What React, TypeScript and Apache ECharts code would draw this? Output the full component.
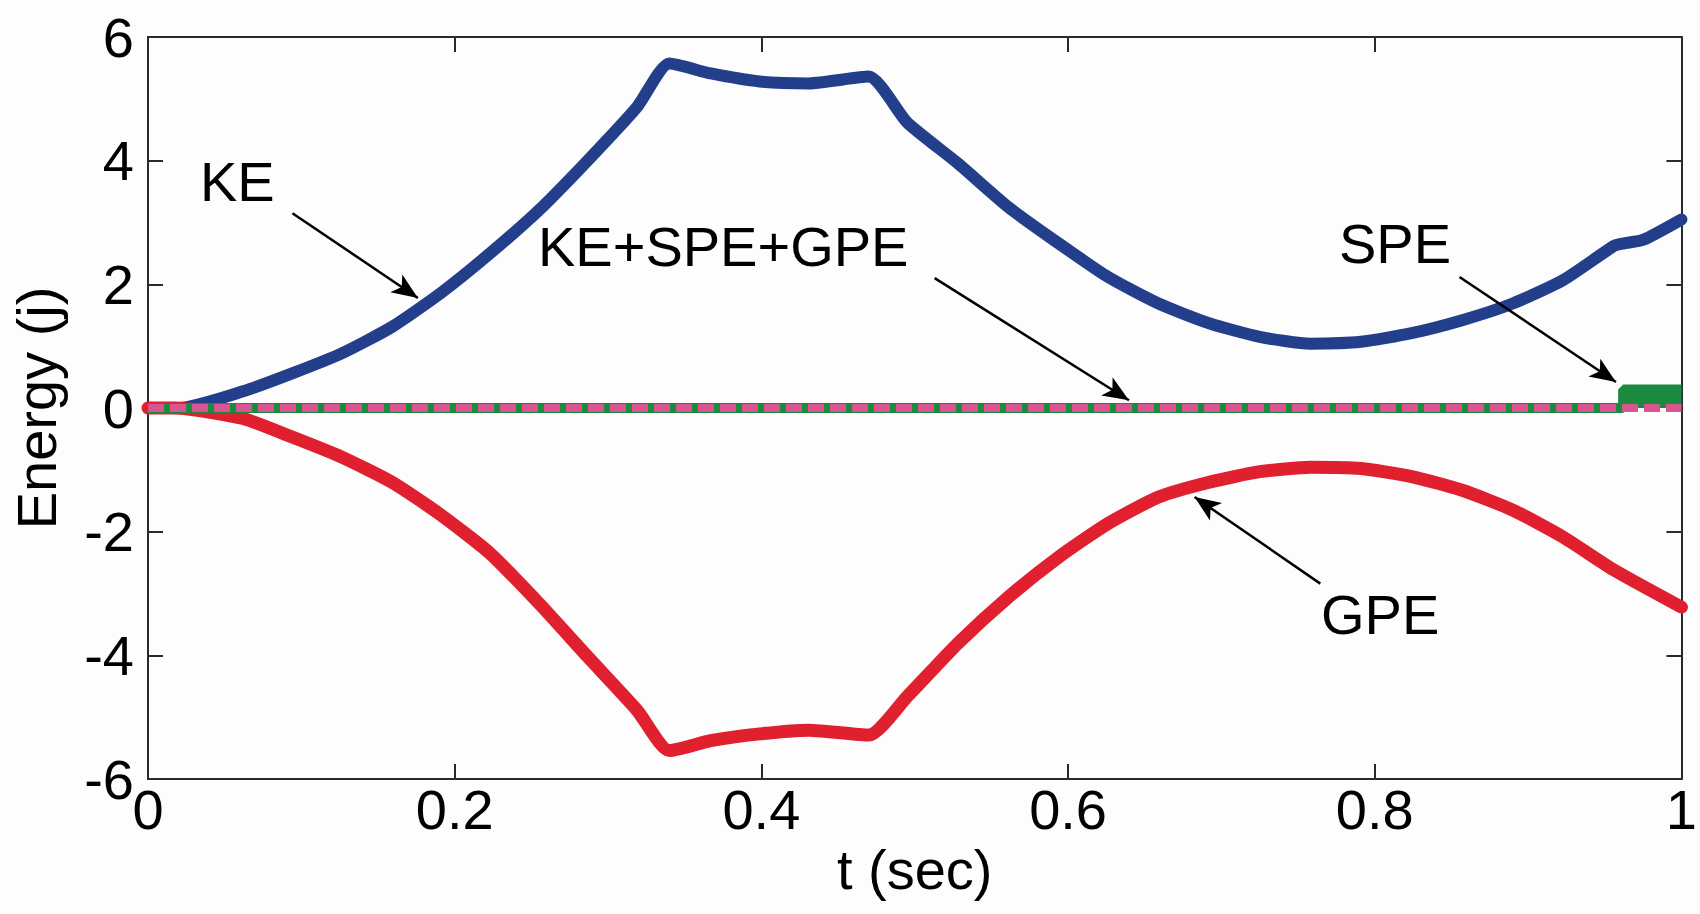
import React, { useEffect, useRef } from "react";
import * as echarts from "echarts";

// KE (blue)
const keT = [0, 0.02, 0.062, 0.094, 0.126, 0.159, 0.191, 0.223, 0.255, 0.287, 0.319, 0.34, 0.367, 0.399, 0.431, 0.47, 0.495, 0.528, 0.561, 0.594, 0.626, 0.659, 0.692, 0.725, 0.758, 0.791, 0.824, 0.857, 0.89, 0.923, 0.956, 0.962, 0.975, 1.0];
const keV = [0, 0, 0.27, 0.56, 0.88, 1.31, 1.86, 2.5, 3.2, 4.01, 4.87, 5.57, 5.41, 5.28, 5.25, 5.36, 4.62, 3.96, 3.25, 2.66, 2.12, 1.69, 1.37, 1.15, 1.04, 1.07, 1.21, 1.42, 1.69, 2.07, 2.62, 2.66, 2.72, 3.05];

// GPE (red)
const gpeT = [0, 0.017, 0.062, 0.094, 0.126, 0.159, 0.191, 0.223, 0.255, 0.287, 0.319, 0.34, 0.367, 0.399, 0.431, 0.47, 0.495, 0.528, 0.561, 0.594, 0.626, 0.659, 0.692, 0.725, 0.758, 0.791, 0.824, 0.857, 0.89, 0.923, 0.956, 1.0];
const gpeV = [0, 0, -0.17, -0.47, -0.79, -1.2, -1.73, -2.35, -3.16, -4.03, -4.89, -5.54, -5.38, -5.27, -5.21, -5.29, -4.67, -3.81, -3.06, -2.41, -1.87, -1.44, -1.2, -1.03, -0.96, -0.98, -1.11, -1.33, -1.65, -2.09, -2.62, -3.22];

// SPE (green)
const speT = [0, 0.962, 0.962, 1.0];
const speV = [0, 0, 0.3, 0.3];

// KE+SPE+GPE (pink dashed)
const totT = [0, 1];
const totV = [0, 0];

// Axis ticks
const xTicks = { min: 0, max: 1, step: 0.2 };
const yTicks = { min: -6, max: 6, step: 2 };

// Annotation arrows: [fromT, fromV, toT, toV]
const arrows = [
  [0.0942, 3.15, 0.176, 1.78],
  [0.513, 2.1, 0.6397, 0.126],
  [0.8553, 2.12, 0.9573, 0.42],
  [0.7645, -2.84, 0.6825, -1.44],
];

const pairs = (t: number[], v: number[]) => t.map((x, i) => [x, v[i]]);

const FONT = "'Liberation Sans', Arial, Helvetica, sans-serif";
const FS = 56;

export default function App() {
  const ref = useRef<HTMLDivElement>(null);
  useEffect(() => {
    if (!ref.current) return;
    const chart = echarts.init(ref.current, undefined, { renderer: "svg" });
    const axisLine = { show: true, onZero: false, lineStyle: { color: "#2a2a2a", width: 2 } };
    const tick = { show: true, inside: true, length: 15, lineStyle: { color: "#2a2a2a", width: 2 } };
    const labelFmt = (v: number) => String(Math.round(v * 10) / 10);
    chart.setOption({
      animation: false,
      backgroundColor: "#fdfdfd",
      grid: { left: 133, right: 17, top: 37, bottom: 135, containLabel: false },
      xAxis: [
        {
          type: "value",
          min: xTicks.min,
          max: xTicks.max,
          interval: xTicks.step,
          name: "t (sec)",
          nameLocation: "middle",
          nameGap: 54,
          nameTextStyle: { fontSize: FS, fontFamily: FONT, color: "#000" },
          axisLine,
          axisTick: tick,
          splitLine: { show: false },
          axisLabel: { fontSize: FS, fontFamily: FONT, color: "#000", margin: 2, formatter: labelFmt },
        },
        {
          type: "value",
          position: "top",
          min: xTicks.min,
          max: xTicks.max,
          interval: xTicks.step,
          axisLine,
          axisTick: tick,
          splitLine: { show: false },
          axisLabel: { show: false },
        },
      ],
      yAxis: [
        {
          type: "value",
          min: yTicks.min,
          max: yTicks.max,
          interval: yTicks.step,
          name: "Energy (j)",
          nameLocation: "middle",
          nameGap: 84,
          nameTextStyle: { fontSize: FS, fontFamily: FONT, color: "#000" },
          axisLine,
          axisTick: tick,
          splitLine: { show: false },
          axisLabel: { fontSize: FS, fontFamily: FONT, color: "#000", margin: 14 },
        },
        {
          type: "value",
          position: "right",
          min: yTicks.min,
          max: yTicks.max,
          interval: yTicks.step,
          axisLine,
          axisTick: tick,
          splitLine: { show: false },
          axisLabel: { show: false },
        },
      ],
      series: [
        {
          name: "KE",
          type: "line",
          data: pairs(keT, keV),
          showSymbol: false,
          smooth: 0.2,
          lineStyle: { color: "#233f8c", width: 12, join: "round", cap: "round" },
        },
        {
          name: "GPE",
          type: "line",
          data: pairs(gpeT, gpeV),
          showSymbol: false,
          smooth: 0.2,
          lineStyle: { color: "#e0202f", width: 13, join: "round", cap: "round" },
        },
        {
          name: "SPE",
          type: "line",
          data: pairs(speT, speV),
          showSymbol: false,
          lineStyle: { color: "#1b8a3e", width: 10 },
          areaStyle: { color: "#1b8a3e", opacity: 1, origin: 0 },
        },
        {
          name: "KE+SPE+GPE",
          type: "line",
          data: pairs(totT, totV),
          showSymbol: false,
          lineStyle: { color: "#d8558f", width: 8, type: [16, 6] },
          markLine: {
            silent: true,
            symbol: ["none", "arrow"],
            symbolSize: [16, 26],
            label: { show: false },
            lineStyle: { color: "#000", width: 2.5, type: "solid" },
            data: arrows.map((a) => [
              { coord: [a[0], a[1]] },
              { coord: [a[2], a[3]] },
            ]),
          },
        },
      ],
      graphic: [
        { type: "text", x: 200, y: 181, style: { text: "KE", fontSize: FS, fontFamily: FONT, fill: "#000", align: "left", verticalAlign: "middle" } },
        { type: "text", x: 538, y: 246, style: { text: "KE+SPE+GPE", fontSize: FS, fontFamily: FONT, fill: "#000", align: "left", verticalAlign: "middle" } },
        { type: "text", x: 1339, y: 243, style: { text: "SPE", fontSize: FS, fontFamily: FONT, fill: "#000", align: "left", verticalAlign: "middle" } },
        { type: "text", x: 1321, y: 614, style: { text: "GPE", fontSize: FS, fontFamily: FONT, fill: "#000", align: "left", verticalAlign: "middle" } },
      ],
    });
    return () => chart.dispose();
  }, []);
  return (
    <div
      ref={ref}
      style={{ position: "fixed", left: 0, top: 0, width: 1700, height: 914 }}
    />
  );
}
